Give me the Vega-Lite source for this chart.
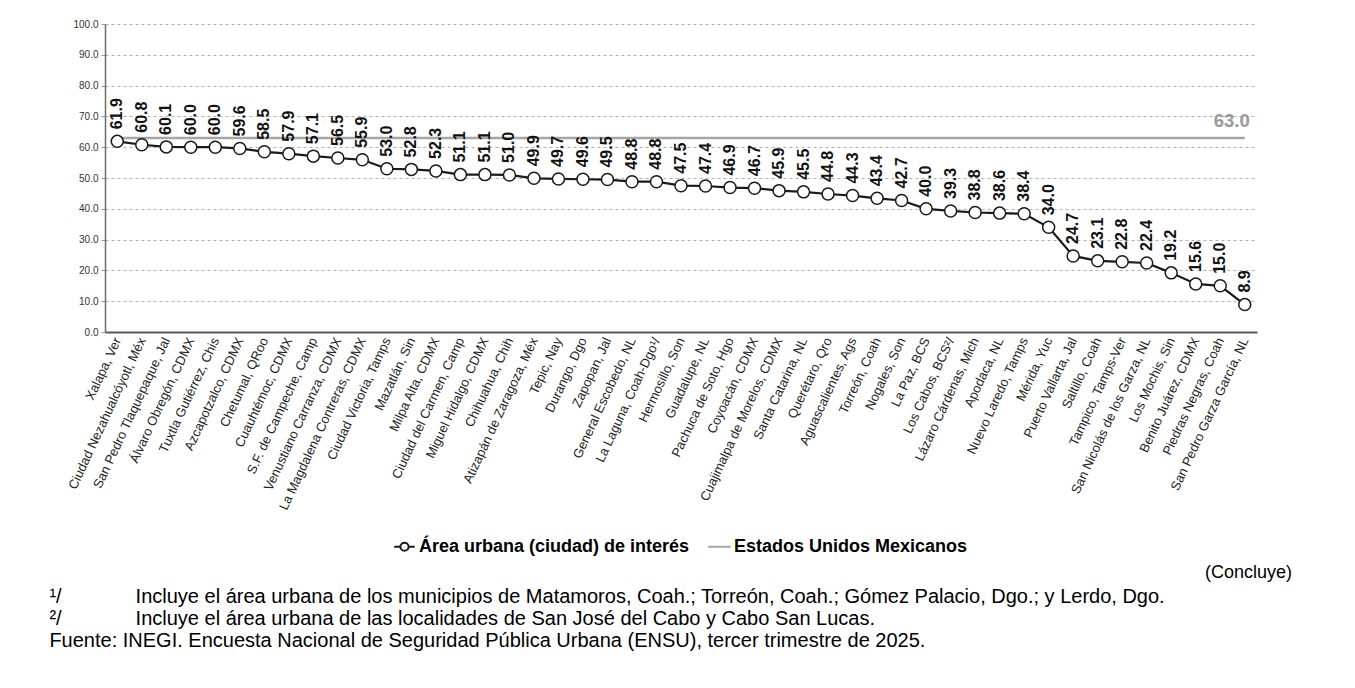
{
  "$schema": "https://vega.github.io/schema/vega-lite/v6.json",
  "background": "white",
  "padding": {"left": 49, "top": 19, "right": 5, "bottom": 5},
  "config": {
    "font": "Liberation Sans",
    "view": {"stroke": null},
    "concat": {"spacing": 0},
    "axisY": {"title": null, "format": ".1f", "labelFontSize": 10, "labelColor": "#333", "grid": true, "gridDash": [3, 3], "gridColor": "#b0b0b0", "gridWidth": 1, "domainColor": "#6e6e6e", "domainWidth": 1.5, "tickColor": "#999", "tickSize": 4, "labelPadding": 3}
  },
  "title": {
    "text": [
      "\u2002¹/\u2003\u2003\u2003\u2002\u2009Incluye el área urbana de los municipios de Matamoros, Coah.; Torreón, Coah.; Gómez Palacio, Dgo.; y Lerdo, Dgo.",
      "\u2002²/\u2003\u2003\u2003\u2002\u2009Incluye el área urbana de las localidades de San José del Cabo y Cabo San Lucas.",
      "Fuente: INEGI. Encuesta Nacional de Seguridad Pública Urbana (ENSU), tercer trimestre de 2025."
    ],
    "orient": "bottom", "anchor": "start", "frame": "bounds", "dx": -17,
    "fontSize": 20, "fontWeight": "normal", "lineHeight": 22, "color": "#000", "offset": 5
  },
  "datasets": {
    "d": [
      {"ciudad": "Xalapa, Ver", "valor": 61.9, "nacional": 63.0},
      {"ciudad": "Ciudad Nezahualcóyotl, Méx", "valor": 60.8, "nacional": 63.0},
      {"ciudad": "San Pedro Tlaquepaque, Jal", "valor": 60.1, "nacional": 63.0},
      {"ciudad": "Álvaro Obregón, CDMX", "valor": 60.0, "nacional": 63.0},
      {"ciudad": "Tuxtla Gutiérrez, Chis", "valor": 60.0, "nacional": 63.0},
      {"ciudad": "Azcapotzalco, CDMX", "valor": 59.6, "nacional": 63.0},
      {"ciudad": "Chetumal, QRoo", "valor": 58.5, "nacional": 63.0},
      {"ciudad": "Cuauhtémoc, CDMX", "valor": 57.9, "nacional": 63.0},
      {"ciudad": "S.F. de Campeche, Camp", "valor": 57.1, "nacional": 63.0},
      {"ciudad": "Venustiano Carranza, CDMX", "valor": 56.5, "nacional": 63.0},
      {"ciudad": "La Magdalena Contreras, CDMX", "valor": 55.9, "nacional": 63.0},
      {"ciudad": "Ciudad Victoria, Tamps", "valor": 53.0, "nacional": 63.0},
      {"ciudad": "Mazatlán, Sin", "valor": 52.8, "nacional": 63.0},
      {"ciudad": "Milpa Alta, CDMX", "valor": 52.3, "nacional": 63.0},
      {"ciudad": "Ciudad del Carmen, Camp", "valor": 51.1, "nacional": 63.0},
      {"ciudad": "Miguel Hidalgo, CDMX", "valor": 51.1, "nacional": 63.0},
      {"ciudad": "Chihuahua, Chih", "valor": 51.0, "nacional": 63.0},
      {"ciudad": "Atizapán de Zaragoza, Méx", "valor": 49.9, "nacional": 63.0},
      {"ciudad": "Tepic, Nay", "valor": 49.7, "nacional": 63.0},
      {"ciudad": "Durango, Dgo", "valor": 49.6, "nacional": 63.0},
      {"ciudad": "Zapopan, Jal", "valor": 49.5, "nacional": 63.0},
      {"ciudad": "General Escobedo, NL", "valor": 48.8, "nacional": 63.0},
      {"ciudad": "La Laguna, Coah-Dgo¹/", "valor": 48.8, "nacional": 63.0},
      {"ciudad": "Hermosillo, Son", "valor": 47.5, "nacional": 63.0},
      {"ciudad": "Guadalupe, NL", "valor": 47.4, "nacional": 63.0},
      {"ciudad": "Pachuca de Soto, Hgo", "valor": 46.9, "nacional": 63.0},
      {"ciudad": "Coyoacán, CDMX", "valor": 46.7, "nacional": 63.0},
      {"ciudad": "Cuajimalpa de Morelos, CDMX", "valor": 45.9, "nacional": 63.0},
      {"ciudad": "Santa Catarina, NL", "valor": 45.5, "nacional": 63.0},
      {"ciudad": "Querétaro, Qro", "valor": 44.8, "nacional": 63.0},
      {"ciudad": "Aguascalientes, Ags", "valor": 44.3, "nacional": 63.0},
      {"ciudad": "Torreón, Coah", "valor": 43.4, "nacional": 63.0},
      {"ciudad": "Nogales, Son", "valor": 42.7, "nacional": 63.0},
      {"ciudad": "La Paz, BCS", "valor": 40.0, "nacional": 63.0},
      {"ciudad": "Los Cabos, BCS²/", "valor": 39.3, "nacional": 63.0},
      {"ciudad": "Lázaro Cárdenas, Mich", "valor": 38.8, "nacional": 63.0},
      {"ciudad": "Apodaca, NL", "valor": 38.6, "nacional": 63.0},
      {"ciudad": "Nuevo Laredo, Tamps", "valor": 38.4, "nacional": 63.0},
      {"ciudad": "Mérida, Yuc", "valor": 34.0, "nacional": 63.0},
      {"ciudad": "Puerto Vallarta, Jal", "valor": 24.7, "nacional": 63.0},
      {"ciudad": "Saltillo, Coah", "valor": 23.1, "nacional": 63.0},
      {"ciudad": "Tampico, Tamps-Ver", "valor": 22.8, "nacional": 63.0},
      {"ciudad": "San Nicolás de los Garza, NL", "valor": 22.4, "nacional": 63.0},
      {"ciudad": "Los Mochis, Sin", "valor": 19.2, "nacional": 63.0},
      {"ciudad": "Benito Juárez, CDMX", "valor": 15.6, "nacional": 63.0},
      {"ciudad": "Piedras Negras, Coah", "valor": 15.0, "nacional": 63.0},
      {"ciudad": "San Pedro Garza García, NL", "valor": 8.9, "nacional": 63.0}
    ]
  },
  "vconcat": [
    {
      "title": {"text": "(Concluye)", "orient": "bottom", "anchor": "end", "frame": "bounds", "fontSize": 18, "fontWeight": "normal", "color": "#000", "dx": 35, "offset": 52},
      "width": 1152,
      "height": 308,
      "data": {"name": "d"},
      "encoding": {
        "x": {
          "field": "ciudad", "type": "nominal", "sort": null,
          "scale": {"type": "point", "padding": 0.5},
          "axis": {"title": null, "labelAngle": -65, "labelFontSize": 13, "labelColor": "#222", "ticks": false, "domainColor": "#595959", "domainWidth": 2, "labelPadding": 6, "labelAlign": "right", "labelBaseline": "middle", "grid": false, "labelLimit": 0}
        }
      },
      "layer": [
        {
          "mark": {"type": "line", "strokeWidth": 2.5},
          "encoding": {
            "y": {
              "field": "nacional", "type": "quantitative",
              "scale": {"domain": [0, 100]},
              "axis": {"values": [0, 10, 20, 30, 40, 50, 60, 70, 80, 90, 100]}
            },
            "color": {
              "datum": "Estados Unidos Mexicanos", "type": "nominal",
              "scale": {"domain": ["Área urbana (ciudad) de interés", "Estados Unidos Mexicanos"], "range": ["#1a1a1a", "#a6a6a6"]},
              "legend": {
                "title": null, "orient": "none", "legendX": 288, "legendY": 511, "direction": "horizontal",
                "labelFontSize": 18, "labelFontWeight": "bold", "labelColor": "#000", "labelLimit": 0, "symbolSize": 420, "columnPadding": 14, "labelOffset": 3,
                "symbolStrokeWidth": 2,
                "encode": {"symbols": {"update": {
                  "shape": {"signal": "datum.label == 'Estados Unidos Mexicanos' ? 'M-1.1,0H1.1' : 'M-1,0H-0.4M0.4,0H1M0.4,0A0.4,0.4 0 1 1 -0.4,0A0.4,0.4 0 1 1 0.4,0'"},
                  "fill": {"value": "white"}
                }}}
              }
            }
          }
        },
        {
          "mark": {"type": "line", "strokeWidth": 2.2, "point": {"filled": false, "fill": "white", "size": 144, "strokeWidth": 1.5}},
          "encoding": {
            "y": {"field": "valor", "type": "quantitative", "axis": {"values": [0, 10, 20, 30, 40, 50, 60, 70, 80, 90, 100]}},
            "color": {"datum": "Área urbana (ciudad) de interés", "type": "nominal"}
          }
        },
        {
          "mark": {"type": "text", "angle": 270, "align": "left", "baseline": "middle", "dx": 12, "fontSize": 16, "fontWeight": "bold", "color": "#111"},
          "encoding": {
            "y": {"field": "valor", "type": "quantitative", "axis": {"values": [0, 10, 20, 30, 40, 50, 60, 70, 80, 90, 100]}},
            "text": {"field": "valor", "type": "quantitative", "format": ".1f"}
          }
        },
        {
          "transform": [{"filter": "datum.ciudad == 'San Pedro Garza García, NL'"}],
          "mark": {"type": "text", "align": "right", "baseline": "alphabetic", "dx": 5, "dy": -11, "fontSize": 18.5, "fontWeight": "bold", "color": "#999999"},
          "encoding": {
            "y": {"field": "nacional", "type": "quantitative", "axis": {"values": [0, 10, 20, 30, 40, 50, 60, 70, 80, 90, 100]}},
            "text": {"field": "nacional", "type": "quantitative", "format": ".1f"}
          }
        }
      ]
    }
  ]
}
